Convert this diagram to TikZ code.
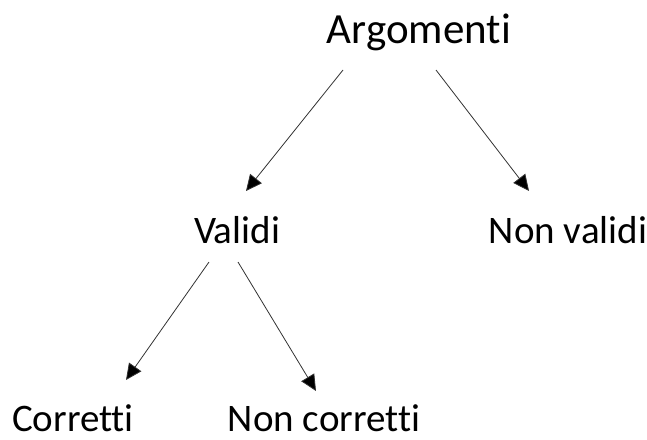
\documentclass[tikz,border=0pt]{standalone}
\usepackage{fontspec}
\setmainfont{Carlito}[RawFeature=-liga]
\usepackage{tikz}
\definecolor{white}{rgb}{1.0, 1.0, 1.0}
\definecolor{black}{rgb}{0.0, 0.0, 0.0}
\definecolor{lgrey}{RGB}{50,50,50}
\usetikzlibrary{arrows.meta}
\tikzstyle{word}=[inner sep=0pt,anchor=base,font=\fontsize{39}{44}\selectfont]
\tikzstyle{arr}=[-{Triangle[length=16pt,width=15pt,fill=black]},line width=0.8pt,draw=lgrey]

\begin{document}
\begin{tikzpicture}[x=1pt,y=1pt]
        \useasboundingbox (0,0) rectangle (647,-439);
        \node [style = word, font=\fontsize{43}{48}\selectfont] (arg) at (419, -43) {Argomenti};
        \node [style = word] (val) at (237, -243) {Validi};
        \node [style = word] (nval) at (568, -243) {Non validi};
        \node [style = word] (corr) at (73, -431) {Corretti};
        \node [style = word] (ncorr) at (324, -431) {Non corretti};

        \draw [style = arr] ([shift={(-76pt,-27pt)}]arg.base) to ([shift={(9pt,52pt)}]val.base);
        \draw [style = arr] ([shift={(17pt,-27pt)}]arg.base) to ([shift={(-39pt,52pt)}]nval.base);
        \draw [style = arr] ([shift={(-28pt,-19pt)}]val.base) to ([shift={(53pt,51pt)}]corr.base);
        \draw [style = arr] ([shift={(1pt,-19pt)}]val.base) to ([shift={(-8pt,40pt)}]ncorr.base);
\end{tikzpicture}
\end{document}
